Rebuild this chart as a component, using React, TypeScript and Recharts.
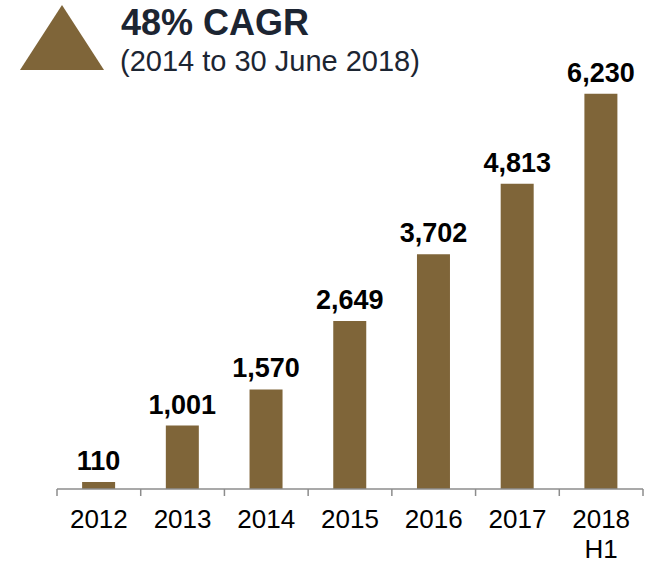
import React from 'react';
import { BarChart, Bar, XAxis, YAxis, LabelList } from 'recharts';

const categories = ['2012', '2013', '2014', '2015', '2016', '2017', '2018\nH1'];
const values = [110, 1001, 1570, 2649, 3702, 4813, 6230];
const title = '48% CAGR';
const subtitle = '(2014 to 30 June 2018)';

const data = categories.map((c, i) => ({ name: c, value: values[i] }));

const BAR = '#7F6539';
const FONT = '"Liberation Sans", Arial, sans-serif';

const Tick = (props: any) => {
  const { x, y, payload, index, visibleTicksCount, width } = props;
  const band = width / visibleTicksCount;
  const lines = String(payload.value).split('\n');
  return (
    <g>
      <line x1={x - band / 2} x2={x - band / 2} y1={y} y2={y + 7} stroke="#8C8C8C" strokeWidth={1.5} />
      {index === visibleTicksCount - 1 && (
        <line x1={x + band / 2} x2={x + band / 2} y1={y} y2={y + 7} stroke="#8C8C8C" strokeWidth={1.5} />
      )}
      <text x={x} y={y + 39} textAnchor="middle" fontFamily={FONT} fontSize={26} fill="#000">
        {lines.map((l, i) => (
          <tspan key={i} x={x} dy={i === 0 ? 0 : 29.5}>
            {l}
          </tspan>
        ))}
      </text>
    </g>
  );
};

const ValueLabel = (props: any) => {
  const { x, y, width, value } = props;
  return (
    <text x={x + width / 2} y={y - 12} textAnchor="middle" fontFamily={FONT} fontWeight="bold" fontSize={27} fill="#000">
      {Number(value).toLocaleString('en-US')}
    </text>
  );
};

export default function App() {
  return (
    <div style={{ position: 'absolute', left: 0, top: 0, width: 654, height: 563, background: '#fff' }}>
      <svg width={654} height={100} style={{ position: 'absolute', left: 0, top: 0 }}>
        <polygon points="62,5 20,70 104,70" fill={BAR} />
        <text x={121} y={35} fontFamily={FONT} fontWeight="bold" fontSize={36} fill="#1C2532">
          {title}
        </text>
        <text x={120} y={71} fontFamily={FONT} fontSize={29} fill="#1C2532">
          {subtitle}
        </text>
      </svg>
      <div style={{ position: 'absolute', left: 0, top: 0 }}>
        <BarChart
          width={654}
          height={563}
          data={data}
          margin={{ top: 45, right: 11, bottom: 0, left: 57 }}
          barCategoryGap="30%"
        >
          <YAxis hide domain={[0, 7000]} />
          <XAxis
            dataKey="name"
            height={74}
            tickLine={false}
            tickSize={0}
            tickMargin={0}
            interval={0}
            axisLine={{ stroke: '#8C8C8C', strokeWidth: 1.5 }}
            tick={<Tick />}
          />
          <Bar dataKey="value" fill={BAR} isAnimationActive={false}>
            <LabelList dataKey="value" content={<ValueLabel />} />
          </Bar>
        </BarChart>
      </div>
    </div>
  );
}
